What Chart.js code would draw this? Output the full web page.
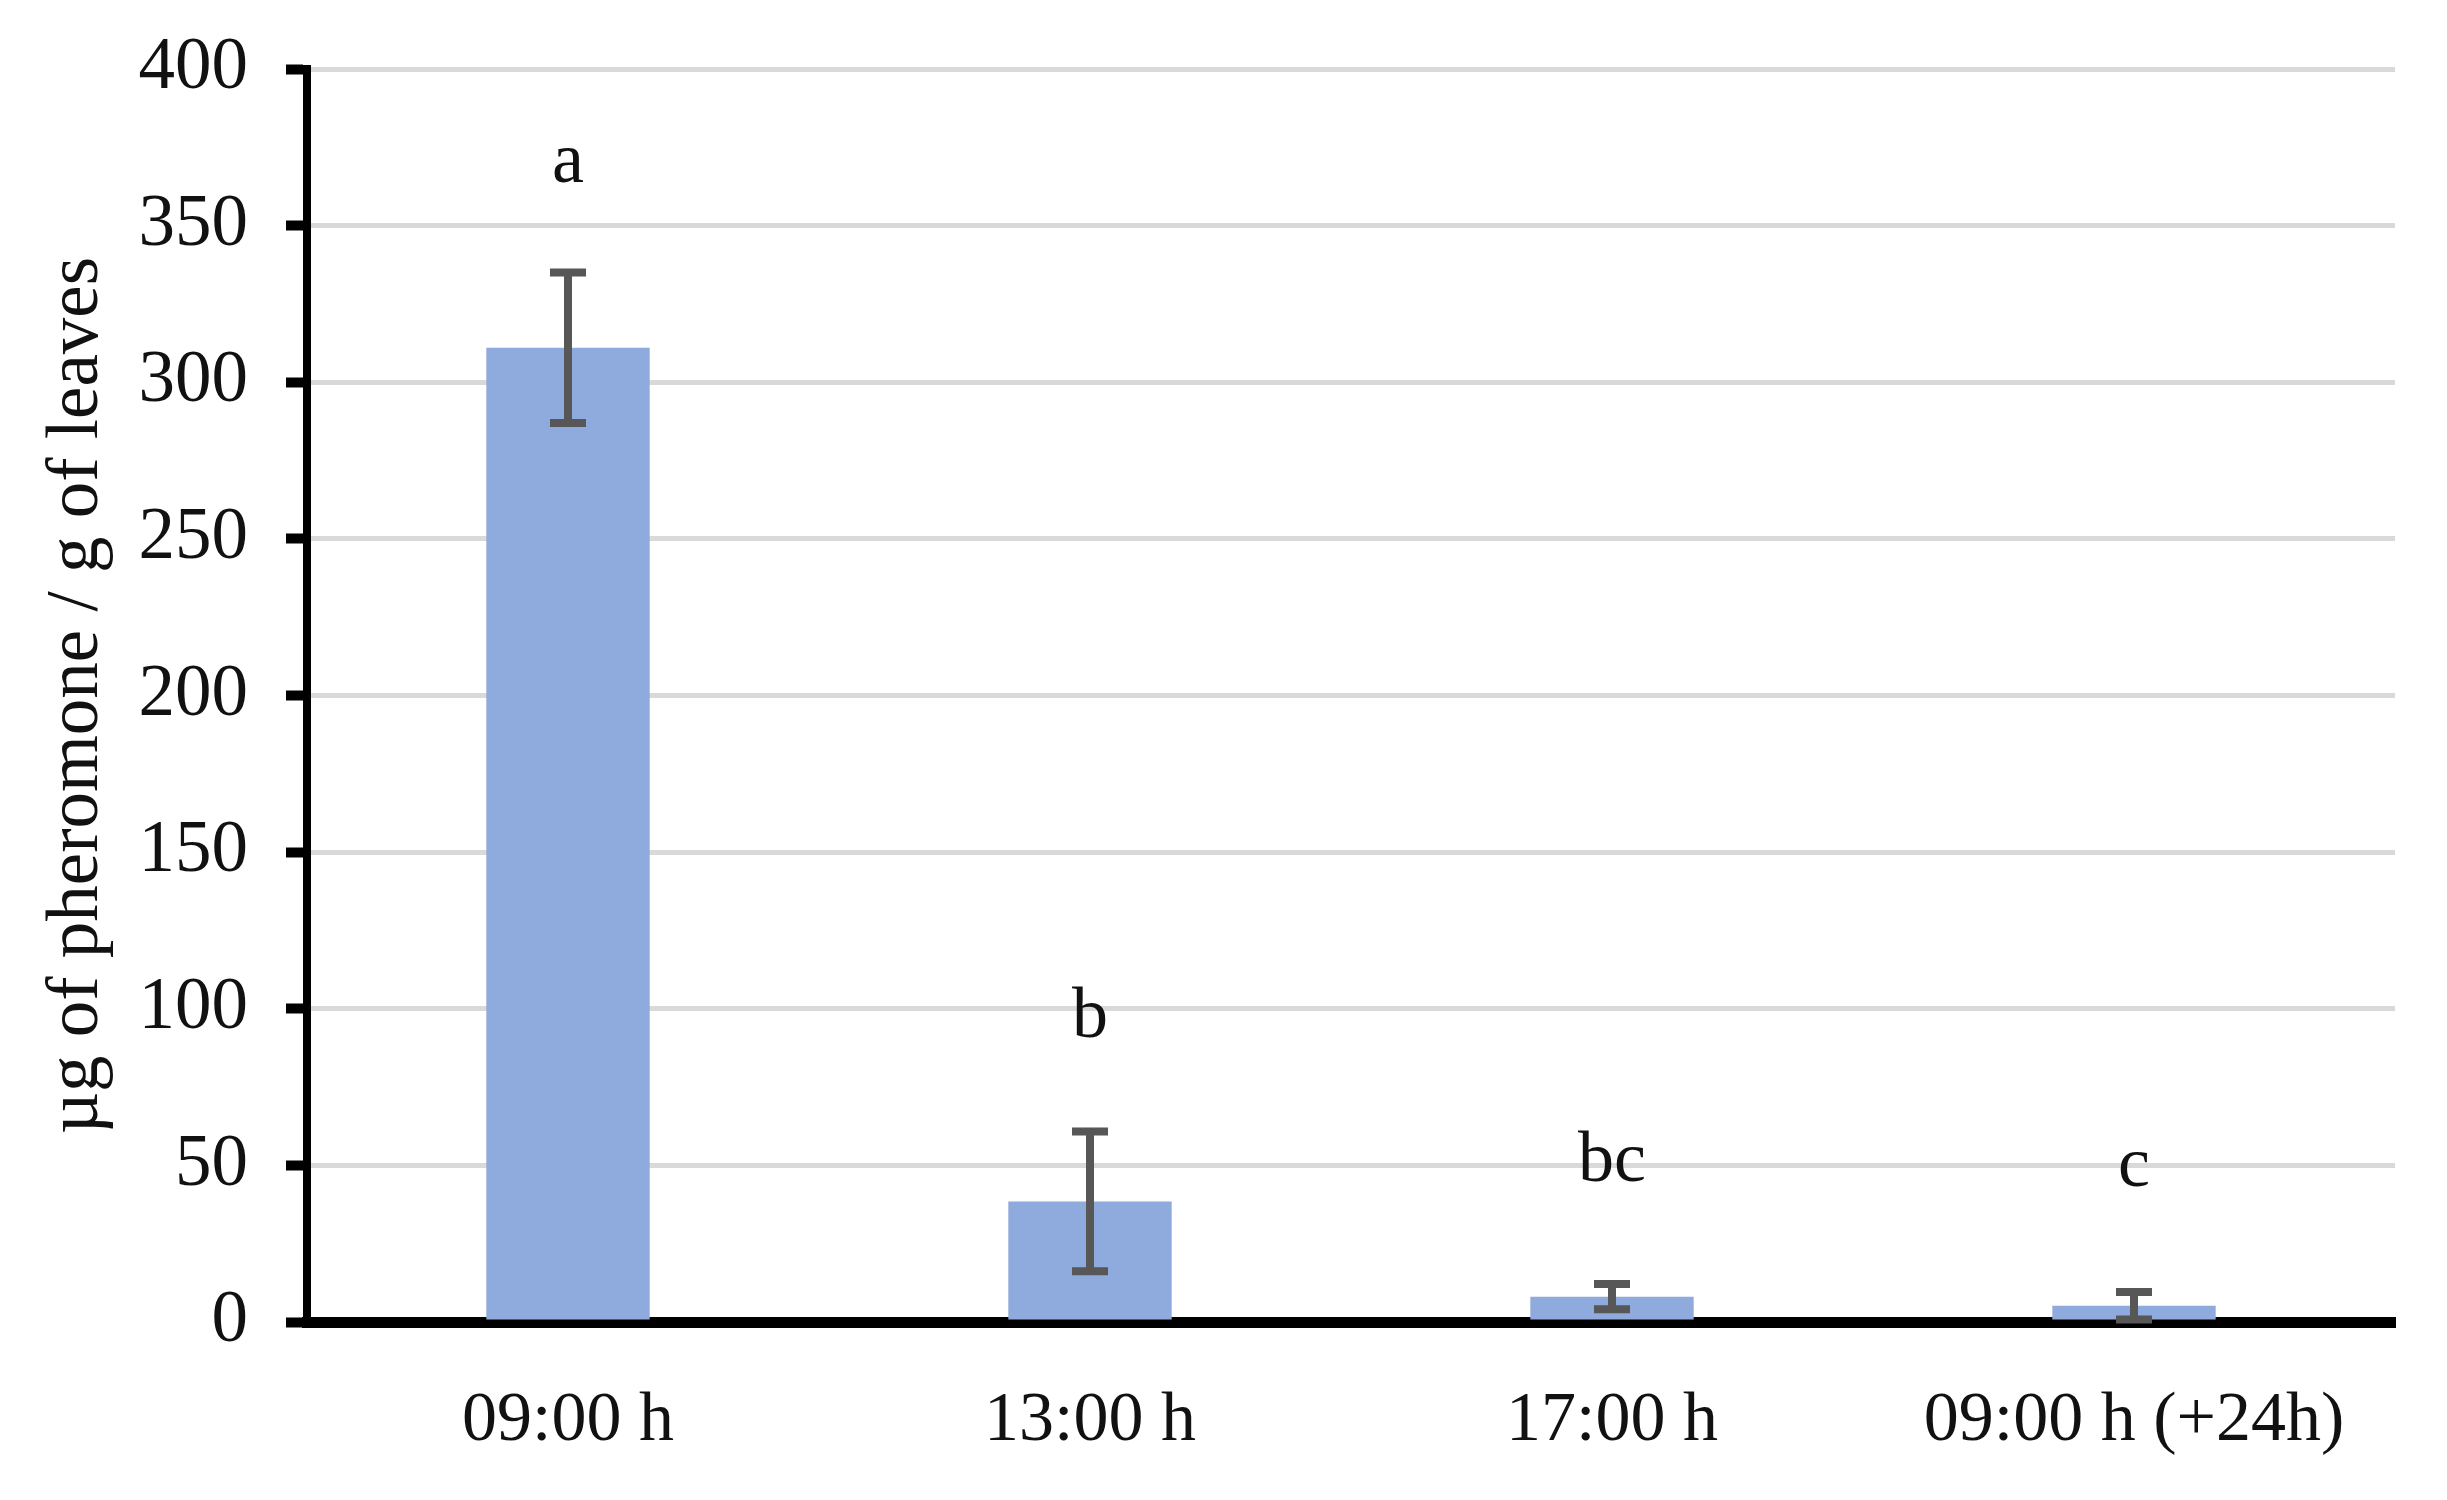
<!DOCTYPE html>
<html>
<head>
<meta charset="utf-8">
<script src="https://cdn.jsdelivr.net/npm/chart.js@4.4.1/dist/chart.umd.min.js"></script>
<style>
  html, body { margin: 0; padding: 0; background: #fff; }
  #wrap { width: 2447px; height: 1500px; }
</style>
</head>
<body>
<div id="wrap"><canvas id="pheromoneChart" width="2447" height="1500"></canvas></div>
<script>
// values
const categories = ['09:00 h', '13:00 h', '17:00 h', '09:00 h (+24h)'];
const meanValues = [311, 38.5, 8.1, 5.2];
const errValues = [24, 22.3, 4, 4.4];
const letters = ['a', 'b', 'bc', 'c'];
const letterValues = [370, 97, 51, 49.5];
const yTicks = [0, 50, 100, 150, 200, 250, 300, 350, 400];

const FONT = "'Liberation Serif', 'Times New Roman', serif";

// error bars + significance letters
const errorBarPlugin = {
    id: 'errorBars',
    afterDatasetsDraw(chart) {
        const ctx = chart.ctx;
        const meta = chart.getDatasetMeta(0);
        const y = chart.scales.y;
        ctx.save();
        ctx.strokeStyle = '#575757';
        ctx.lineWidth = 8;
        meta.data.forEach((bar, i) => {
            const x = bar.x;
            const top = y.getPixelForValue(meanValues[i] + errValues[i]);
            const bot = y.getPixelForValue(Math.max(0, meanValues[i] - errValues[i]));
            ctx.beginPath();
            ctx.moveTo(x, top);
            ctx.lineTo(x, bot);
            ctx.moveTo(x - 18, top);
            ctx.lineTo(x + 18, top);
            ctx.moveTo(x - 18, bot);
            ctx.lineTo(x + 18, bot);
            ctx.stroke();
        });
        ctx.fillStyle = '#111';
        ctx.font = '72px ' + FONT;
        ctx.textAlign = 'center';
        ctx.textBaseline = 'middle';
        meta.data.forEach((bar, i) => {
            ctx.fillText(letters[i], bar.x, y.getPixelForValue(letterValues[i]));
        });
        ctx.restore();
    }
};

const canvas = document.getElementById('pheromoneChart');
const ctx = canvas.getContext('2d');

new Chart(ctx, {
    type: 'bar',
    data: {
        labels: categories,
        datasets: [{
            data: meanValues,
            backgroundColor: '#8faadc',
            borderWidth: 0,
            barPercentage: 0.313,
            categoryPercentage: 1
        }]
    },
    options: {
        responsive: false,
        animation: false,
        layout: {
            padding: { top: 69, right: 52, bottom: 0, left: 0 }
        },
        plugins: {
            legend: { display: false },
            tooltip: { enabled: false }
        },
        scales: {
            x: {
                z: 1,
                grid: { display: false, drawTicks: false },
                border: { display: true, color: '#000', width: 11 },
                ticks: {
                    color: '#111',
                    padding: 58,
                    font: { family: FONT, size: 70 }
                },
                afterFit: (scale) => { scale.height = 178; }
            },
            y: {
                min: 0,
                max: 400,
                afterBuildTicks: (scale) => {
                    scale.ticks = yTicks.map(v => ({ value: v }));
                },
                grid: {
                    color: (c) => c.tick && c.tick.value === 0 ? 'rgba(0,0,0,0)' : '#d9d9d9',
                    lineWidth: 5,
                    tickColor: '#000',
                    tickWidth: 10,
                    tickLength: 21
                },
                border: { display: true, color: '#000', width: 8 },
                ticks: {
                    color: '#111',
                    padding: 38,
                    font: { family: FONT, size: 73 }
                },
                title: {
                    display: true,
                    text: 'µg of pheromone / g of leaves',
                    color: '#111',
                    padding: { top: 34, bottom: 0 },
                    font: { family: FONT, size: 73 }
                },
                afterFit: (scale) => {
                    scale.width = 307;
                    scale.paddingTop = 0;
                    scale.paddingBottom = 0;
                }
            }
        }
    },
    plugins: [errorBarPlugin]
});
</script>
</body>
</html>
